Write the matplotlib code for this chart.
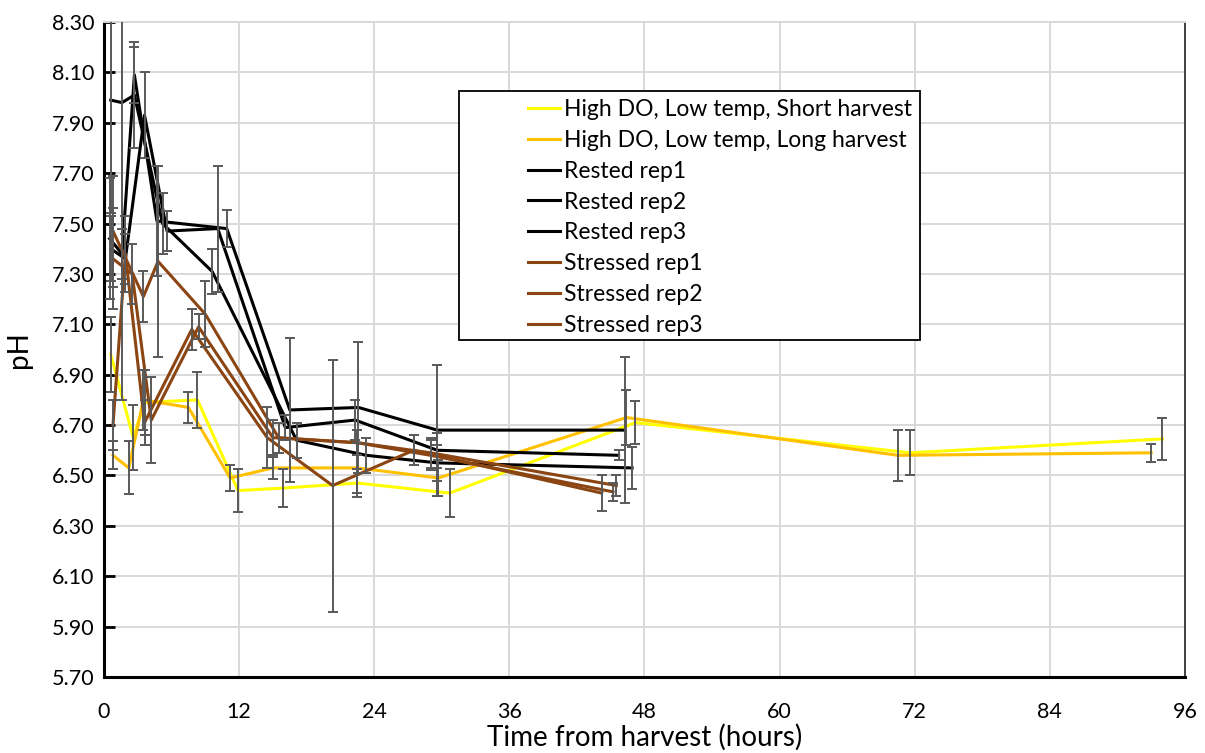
import matplotlib
matplotlib.use("Agg")
import matplotlib.pyplot as plt
from matplotlib.patches import Rectangle

plt.rcParams['font.family'] = ['Lato', 'DejaVu Sans']

# ---- data: time from harvest (h), mean pH, error (±) ----
short_t = [0.6, 2.6, 3.6, 8.3, 11.9, 15.9, 22.5, 30.7, 47.2, 71.6, 94.0]
short_ph = [6.98, 6.65, 6.79, 6.80, 6.44, 6.45, 6.47, 6.43, 6.71, 6.59, 6.645]
short_err = [0.15, 0.13, 0.13, 0.11, 0.085, 0.077, 0.055, 0.095, 0.085, 0.09, 0.085]

long_t = [0.8, 2.2, 3.5, 7.5, 11.2, 15.0, 22.5, 29.7, 46.4, 70.5, 93.0]
long_ph = [6.58, 6.53, 6.80, 6.77, 6.49, 6.53, 6.53, 6.49, 6.73, 6.58, 6.59]
long_err = [0.055, 0.105, 0.12, 0.06, 0.05, 0.045, 0.10, 0.07, 0.11, 0.10, 0.035]

rest1_t = [0.6, 1.6, 2.7, 5.2, 9.6, 17.1, 23.3, 29.6, 46.9]
rest1_ph = [7.99, 7.98, 8.01, 7.50, 7.31, 6.64, 6.58, 6.55, 6.53]
rest1_err = [0.45, 1.18, 0.21, 0.12, 0.09, 0.07, 0.07, 0.07, 0.085]

rest2_t = [0.5, 1.6, 2.7, 4.7, 10.9, 16.5, 22.6, 29.6, 46.3]
rest2_ph = [7.44, 7.38, 8.09, 7.51, 7.48, 6.76, 6.77, 6.68, 6.68]
rest2_err = [0.24, 0.10, 0.11, 0.22, 0.075, 0.285, 0.26, 0.26, 0.29]

rest3_t = [0.6, 1.9, 3.6, 5.6, 10.1, 16.1, 22.3, 29.6, 45.7]
rest3_ph = [7.40, 7.36, 7.93, 7.47, 7.48, 6.69, 6.72, 6.60, 6.58]
rest3_err = [0.13, 0.10, 0.17, 0.08, 0.25, 0.05, 0.08, 0.07, 0.02]

str1_t = [0.8, 3.5, 4.8, 9.0, 15.5, 22.5, 29.0, 45.5]
str1_ph = [7.47, 7.21, 7.35, 7.14, 6.65, 6.63, 6.59, 6.46]
str1_err = [0.22, 0.10, 0.38, 0.13, 0.06, 0.05, 0.06, 0.04]

str2_t = [0.8, 1.9, 3.6, 7.8, 14.5, 20.3, 27.5, 44.2]
str2_ph = [6.70, 7.38, 6.71, 7.08, 6.65, 6.46, 6.60, 6.43]
str2_err = [0.10, 0.15, 0.09, 0.08, 0.12, 0.50, 0.06, 0.07]

str3_t = [0.8, 2.5, 4.2, 8.4, 15.0, 22.5, 29.0, 45.2]
str3_ph = [7.36, 7.30, 6.72, 7.09, 6.65, 6.63, 6.58, 6.435]
str3_err = [0.20, 0.12, 0.17, 0.05, 0.07, 0.05, 0.06, 0.035]

labels = ["High DO, Low temp, Short harvest", "High DO, Low temp, Long harvest",
          "Rested rep1", "Rested rep2", "Rested rep3",
          "Stressed rep1", "Stressed rep2", "Stressed rep3"]

yellow = "#FFFF00"
gold = "#FFC000"
black = "#000000"
brown = "#8B4513"

series = [
    (short_t, short_ph, short_err, yellow),
    (long_t, long_ph, long_err, gold),
    (rest1_t, rest1_ph, rest1_err, black),
    (rest2_t, rest2_ph, rest2_err, black),
    (rest3_t, rest3_ph, rest3_err, black),
    (str1_t, str1_ph, str1_err, brown),
    (str2_t, str2_ph, str2_err, brown),
    (str3_t, str3_ph, str3_err, brown),
]

fig = plt.figure(figsize=(12.05, 7.53), dpi=100)
ax = fig.add_axes([0.0863, 0.1009, 0.8971, 0.8699])

handles = []
for (t, ph, err, col), lab in zip(series, labels):
    ln, = ax.plot(t, ph, color=col, lw=2.2, label=lab, zorder=3)
    handles.append(ln)
    ax.errorbar(t, ph, yerr=err, fmt='none', ecolor="#595959", elinewidth=1.4,
                capsize=3.6, capthick=1.4, zorder=4)

ax.set_xlim(0, 96)
ax.set_ylim(5.70, 8.30)
ax.set_xticks(range(0, 97, 12))
yt = [5.70 + 0.2 * i for i in range(14)]
ax.set_yticks(yt)
ax.set_yticklabels([f"{v:.2f}" for v in yt])
ax.grid(True, color="#D9D9D9", lw=1.4, zorder=0)
ax.set_axisbelow(True)

ax.tick_params(axis='y', direction='in', length=8, width=2, labelsize=15.5, pad=7)
ax.tick_params(axis='x', direction='in', length=0, labelsize=15.5, pad=18)
for s in ("left", "bottom"):
    ax.spines[s].set_linewidth(2.2)
    ax.spines[s].set_color("black")
ax.spines["right"].set_linewidth(1.4)
ax.spines["right"].set_color("#404040")
ax.spines["top"].set_linewidth(1.4)
ax.spines["top"].set_color("#D9D9D9")

ax.set_xlabel("Time from harvest (hours)", fontsize=20, labelpad=1)
ax.set_ylabel("pH", fontsize=20, labelpad=14)

# legend box with entries indented from its left edge
ax.add_patch(Rectangle((0.328, 0.515), 0.427, 0.380, transform=ax.transAxes,
                       facecolor="white", edgecolor="black", lw=1.3, zorder=10))
leg = ax.legend(handles=handles, loc="upper left", bbox_to_anchor=(0.392, 0.8825),
                frameon=False, fontsize=16.5, handlelength=1.4, handletextpad=0.2,
                labelspacing=0.43, borderaxespad=0, borderpad=0)
leg.set_zorder(11)

fig.savefig("out.png", dpi=100)
